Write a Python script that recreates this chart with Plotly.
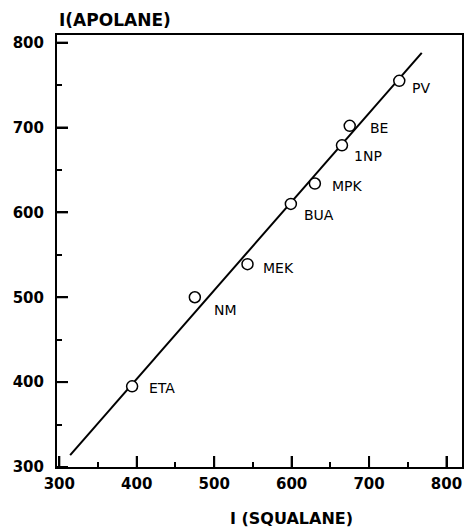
import plotly.graph_objects as go

# Data
compounds = ["ETA", "NM", "MEK", "BUA", "MPK", "1NP", "BE", "PV"]
i_squalane = [394, 475, 543, 599, 630, 665, 675, 739]
i_apolane = [395, 500, 539, 610, 634, 679, 702, 755]

# Fitted regression line endpoints
fit_x = [314, 768]
fit_y = [314, 788]

x_ticks = [300, 400, 500, 600, 700, 800]
y_ticks = [300, 400, 500, 600, 700, 800]

# label pixel offsets (x right, y down)
label_dx = [15, 17, 13, 11, 15, 10, 18, 11]
label_dy = [2, 13, 4, 11, 2, 11, 2, 7]

FONT = "DejaVu Sans"
X_RANGE = [297, 820]
Y_RANGE = [300, 809]

fig = go.Figure()
fig.add_trace(go.Scatter(x=fit_x, y=fit_y, mode="lines",
                         line=dict(color="black", width=2), showlegend=False,
                         hoverinfo="skip"))
fig.add_trace(go.Scatter(x=i_squalane, y=i_apolane, mode="markers",
                         marker=dict(symbol="circle", size=11, color="white",
                                     line=dict(color="black", width=1.5)),
                         text=compounds, showlegend=False))
# invisible trace to carry the overlay (minor-tick) axes
fig.add_trace(go.Scatter(x=fit_x, y=fit_y, xaxis="x2", yaxis="y2", mode="lines",
                         line=dict(width=0), opacity=0, showlegend=False,
                         hoverinfo="skip"))

for name, xv, yv, dx, dy in zip(compounds, i_squalane, i_apolane, label_dx, label_dy):
    fig.add_annotation(x=xv, y=yv, text=name, showarrow=False,
                       xanchor="left", yanchor="middle",
                       xshift=dx, yshift=-dy,
                       font=dict(family=FONT, size=14, color="black"))

fig.add_annotation(xref="paper", yref="paper", x=0, y=1, xanchor="left",
                   yanchor="bottom", yshift=3, showarrow=False,
                   text="I(APOLANE)",
                   font=dict(family=FONT, size=17, color="black", weight="bold"))
fig.add_annotation(xref="paper", yref="paper", x=0.58, y=0, xanchor="center",
                   yanchor="middle", yshift=-51, showarrow=False,
                   text="I (SQUALANE)",
                   font=dict(family=FONT, size=16, color="black", weight="bold"))

# long inside ticks at the hundreds, placed from the tick values
for xv in x_ticks:
    fig.add_shape(type="line", xref="x", yref="y", ysizemode="pixel",
                  yanchor=Y_RANGE[0], x0=xv, x1=xv, y0=0, y1=11,
                  line=dict(color="black", width=2), layer="above")
for yv in y_ticks:
    fig.add_shape(type="line", xref="x", yref="y", xsizemode="pixel",
                  xanchor=X_RANGE[0], y0=yv, y1=yv, x0=0, x1=11,
                  line=dict(color="black", width=2), layer="above")

main = dict(tickmode="array", ticks="", showline=True,
            linecolor="black", linewidth=2, mirror=True, showgrid=False,
            zeroline=False,
            tickfont=dict(family=FONT, size=15, color="black", weight="bold"))
# short ticks at the 50s
overlay_minor = dict(tickmode="linear", tick0=300, dtick=100, ticks="inside",
                     ticklen=11, tickwidth=2, tickcolor="black", showline=False,
                     showgrid=False, zeroline=False, showticklabels=False,
                     minor=dict(ticks="inside", ticklen=5, tickwidth=1.5,
                                tickcolor="black", dtick=50, tick0=300))

fig.update_layout(
    template="none",
    width=466, height=529,
    margin=dict(l=57, r=4, t=35, b=62),
    plot_bgcolor="white", paper_bgcolor="white",
    font=dict(family=FONT, color="black"),
    xaxis=dict(range=X_RANGE, tickvals=x_ticks, ticklabelstandoff=2, **main),
    yaxis=dict(range=Y_RANGE, tickvals=y_ticks, ticklabelstandoff=8, **main),
    xaxis2=dict(range=X_RANGE, overlaying="x", anchor="y2", side="bottom",
                **overlay_minor),
    yaxis2=dict(range=Y_RANGE, overlaying="y", anchor="x2", side="left",
                **overlay_minor),
)

fig.write_html("out.html", config={"displayModeBar": False},
               post_script="document.body.style.margin='0';document.body.style.padding='0';")
